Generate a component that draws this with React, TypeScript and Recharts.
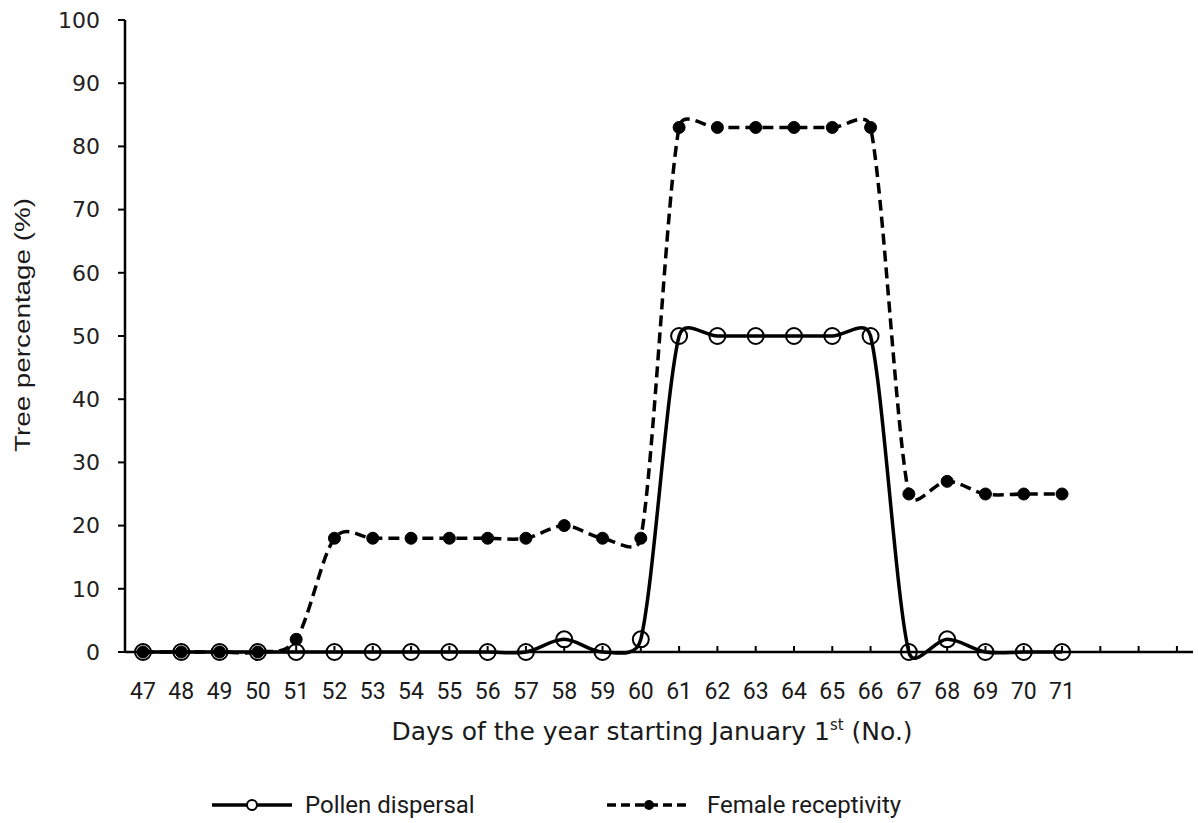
import { LineChart, Line, XAxis, YAxis, Legend } from "recharts";

const days = [47, 48, 49, 50, 51, 52, 53, 54, 55, 56, 57, 58, 59, 60, 61, 62, 63, 64, 65, 66, 67, 68, 69, 70, 71];
const pollen = [0, 0, 0, 0, 0, 0, 0, 0, 0, 0, 0, 2, 0, 2, 50, 50, 50, 50, 50, 50, 0, 2, 0, 0, 0];
const female = [0, 0, 0, 0, 2, 18, 18, 18, 18, 18, 18, 20, 18, 18, 83, 83, 83, 83, 83, 83, 25, 27, 25, 25, 25];
const xTicks = [47, 48, 49, 50, 51, 52, 53, 54, 55, 56, 57, 58, 59, 60, 61, 62, 63, 64, 65, 66, 67, 68, 69, 70, 71, 72, 73, 74];
const yTicks = [0, 10, 20, 30, 40, 50, 60, 70, 80, 90, 100];

const data = days.map((d, i) => ({ day: d, pollen: pollen[i], female: female[i] }));

// smoothed line roughly like a spreadsheet "smoothed line":
// catmull-rom tangents, capped to half the segment length
const CAP = 0.5;
function smoothCurve(context: any) {
  let pts: number[][] = [];
  const tangent = (a: number[], b: number[], L: number) => {
    let tx = (b[0] - a[0]) / 6, ty = (b[1] - a[1]) / 6;
    const m = Math.hypot(tx, ty);
    const cap = L * CAP;
    if (m > cap && m > 0) { tx *= cap / m; ty *= cap / m; }
    return [tx, ty];
  };
  return {
    areaStart() {},
    areaEnd() {},
    lineStart() { pts = []; },
    point(x: number, y: number) { pts.push([+x, +y]); },
    lineEnd() {
      const n = pts.length;
      if (!n) return;
      context.moveTo(pts[0][0], pts[0][1]);
      for (let i = 0; i < n - 1; i++) {
        const p0 = pts[Math.max(i - 1, 0)], p1 = pts[i], p2 = pts[i + 1], p3 = pts[Math.min(i + 2, n - 1)];
        const L = Math.hypot(p2[0] - p1[0], p2[1] - p1[1]);
        const t1 = tangent(p0, p2, L), t2 = tangent(p1, p3, L);
        context.bezierCurveTo(p1[0] + t1[0], p1[1] + t1[1], p2[0] - t2[0], p2[1] - t2[1], p2[0], p2[1]);
      }
    },
  };
}

const YTitle = ({ viewBox }: any) => (
  <text x={0} y={0} transform={`translate(${viewBox.x + 30}, ${viewBox.y + viewBox.height / 2 - 11}) rotate(-90)`}
    textAnchor="middle" fontFamily="'Liberation Sans', Arial" fontSize={22} fill="#1a1a1a"
    textLength={254} lengthAdjust="spacingAndGlyphs">
    Tree percentage (%)
  </text>
);

const XTitle = ({ viewBox }: any) => (
  <text x={viewBox.x + viewBox.width / 2 - 7} y={viewBox.y + 88} textAnchor="middle"
    fontFamily="'DejaVu Sans', Verdana" fontSize={25} fill="#1a1a1a">
    Days of the year starting January 1<tspan fontSize={15} dy={-10}>st</tspan><tspan dy={10}> (No.)</tspan>
  </text>
);

const renderLegend = () => (
  <svg width={1198} height={36}>
    <g>
      <line x1={212} x2={292} y1={18} y2={18} stroke="#000" strokeWidth={3.5} />
      <circle cx={252} cy={18} r={5} fill="#fff" stroke="#000" strokeWidth={2} />
      <text x={305} y={26} fontFamily="Roboto" fontSize={24} fill="#1a1a1a">Pollen dispersal</text>
    </g>
    <g>
      <line x1={607} x2={690} y1={18} y2={18} stroke="#000" strokeWidth={3.5} strokeDasharray="9 5" />
      <circle cx={649} cy={18} r={5} fill="#000" />
      <text x={707} y={26} fontFamily="Roboto" fontSize={24} fill="#1a1a1a">Female receptivity</text>
    </g>
  </svg>
);

export default function App() {
  return (
    <div style={{ position: "absolute", left: 0, top: 0, background: "#fff" }}>
      <LineChart width={1198} height={823} data={data} margin={{ top: 20, right: 5, left: 0, bottom: 0 }}>
        <XAxis
          dataKey="day"
          type="number"
          domain={[46.53, 74.42]}
          allowDataOverflow
          ticks={xTicks}
          interval={0}
          tickFormatter={(v: number) => (v <= 71 ? String(v) : "")}
          tickSize={-6}
          tickMargin={37}
          height={135}
          axisLine={{ stroke: "#000", strokeWidth: 2.5 }}
          tickLine={{ stroke: "#000", strokeWidth: 2 }}
          tick={{ fill: "#1a1a1a", fontFamily: "Roboto", fontSize: 23 }}
          label={(p: any) => <XTitle {...p} />}
        />
        <YAxis
          type="number"
          domain={[0, 100]}
          ticks={yTicks}
          interval={0}
          width={125}
          tickSize={7}
          tickMargin={18}
          axisLine={{ stroke: "#000", strokeWidth: 2.5 }}
          tickLine={{ stroke: "#000", strokeWidth: 2 }}
          tick={{ fill: "#222", fontFamily: "'DejaVu Sans', Verdana", fontSize: 22 }}
          label={(p: any) => <YTitle {...p} />}
        />
        <Legend verticalAlign="bottom" height={36} content={renderLegend} />
        <Line
          dataKey="female"
          name="Female receptivity"
          type={smoothCurve as any}
          stroke="#000"
          strokeWidth={3.5}
          strokeDasharray="11 6"
          dot={{ r: 6, fill: "#000", stroke: "#000", strokeWidth: 1, strokeDasharray: "0" }}
          isAnimationActive={false}
        />
        <Line
          dataKey="pollen"
          name="Pollen dispersal"
          type={smoothCurve as any}
          stroke="#000"
          strokeWidth={3.5}
          dot={{ r: 8, fill: "none", stroke: "#000", strokeWidth: 2 }}
          isAnimationActive={false}
        />
      </LineChart>
    </div>
  );
}
